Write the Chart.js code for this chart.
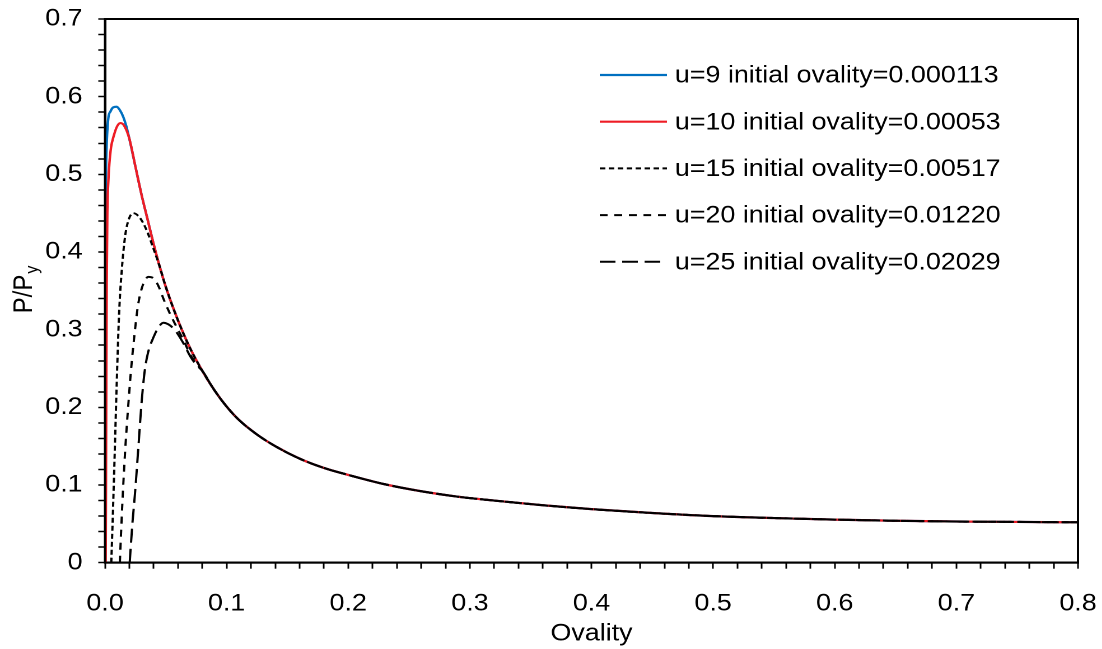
<!DOCTYPE html>
<html>
<head>
<meta charset="utf-8">
<script src="https://cdn.jsdelivr.net/npm/chart.js@4.4.0/dist/chart.umd.min.js"></script>
<style>
  html, body { margin: 0; padding: 0; background: #fff; overflow: hidden; }
  /* the figure is drawn a bit narrower and widened to full width */
  #wrap { width: 984px; height: 649px; transform: scaleX(1.12); transform-origin: 0 0; }
</style>
</head>
<body>
<div id="wrap"><canvas id="myChart"></canvas></div>
<script>
// common post-buckling branch, shared by every case once the curves merge
const tailX = [0.02, 0.025, 0.03, 0.035, 0.04, 0.045, 0.05, 0.06, 0.07, 0.08, 0.09, 0.10, 0.11, 0.125, 0.14, 0.16, 0.18, 0.20, 0.23, 0.26, 0.29, 0.32, 0.36, 0.40, 0.45, 0.50, 0.55, 0.60, 0.65, 0.70, 0.75, 0.80];
const tailY = [0.546, 0.510, 0.474, 0.442, 0.410, 0.381, 0.355, 0.312, 0.276, 0.247, 0.222, 0.201, 0.184, 0.165, 0.150, 0.134, 0.122, 0.113, 0.101, 0.092, 0.085, 0.080, 0.074, 0.069, 0.064, 0.060, 0.0575, 0.0555, 0.054, 0.053, 0.0525, 0.052];

// rising part of each curve, starting from its initial ovality
const u9X = [0.000113, 0.0002, 0.0004, 0.0008, 0.0013, 0.0027, 0.0045, 0.0065, 0.0095, 0.0125, 0.015, 0.0175];
const u9Y = [0, 0.20, 0.40, 0.50, 0.535, 0.572, 0.581, 0.586, 0.587, 0.582, 0.574, 0.562];

const u10X = [0.00053, 0.0008, 0.0011, 0.0014, 0.0019, 0.0027, 0.0036, 0.0050, 0.0069, 0.0100, 0.0128, 0.0160];
const u10Y = [0, 0.10, 0.25, 0.36, 0.45, 0.49, 0.514, 0.535, 0.548, 0.562, 0.566, 0.562];

const u15X = [0.00517, 0.0062, 0.0072, 0.0085, 0.0100, 0.0117, 0.0137, 0.0165, 0.0195, 0.0233, 0.0270, 0.0315, 0.0355, 0.0397];
const u15Y = [0, 0.05, 0.10, 0.17, 0.25, 0.325, 0.375, 0.420, 0.442, 0.450, 0.447, 0.437, 0.423, 0.405];

const u20X = [0.0122, 0.0135, 0.0150, 0.0168, 0.0190, 0.0215, 0.0240, 0.0270, 0.0300, 0.0330, 0.0357, 0.0400, 0.0440, 0.0480, 0.0530, 0.0590, 0.0650, 0.0700];
const u20Y = [0, 0.05, 0.10, 0.15, 0.20, 0.25, 0.29, 0.330, 0.352, 0.364, 0.368, 0.366, 0.356, 0.340, 0.322, 0.303, 0.285, 0.268];

const u25X = [0.0203, 0.0225, 0.0247, 0.0275, 0.0300, 0.0325, 0.0350, 0.0398, 0.0440, 0.0480, 0.0520, 0.0560, 0.0600, 0.0650, 0.0700, 0.0750];
const u25Y = [0, 0.05, 0.09, 0.15, 0.205, 0.245, 0.268, 0.290, 0.303, 0.309, 0.307, 0.302, 0.294, 0.281, 0.266, 0.255];

const legendLabels = [
    'u=9 initial ovality=0.000113',
    'u=10 initial ovality=0.00053',
    'u=15 initial ovality=0.00517',
    'u=20 initial ovality=0.01220',
    'u=25 initial ovality=0.02029'
];

const xTitle = 'Ovality';
const yTitleMain = 'P/P';
const yTitleSub = 'y';

const FONT = "'Liberation Sans', Arial, sans-serif";

function buildPoints(xs, ys, joinAt) {
    let pts = xs.map((x, i) => ({ x: x, y: ys[i] }));
    tailX.forEach((x, i) => {
        if (x >= joinAt) pts.push({ x: x, y: tailY[i] });
    });
    return pts;
}

function isMajor(v) {
    return Math.abs(v * 10 - Math.round(v * 10)) < 1e-6;
}

const data = {
    datasets: [
        {
            label: legendLabels[0],
            data: buildPoints(u9X, u9Y, 0.02),
            borderColor: '#0070c0',
            borderWidth: 2.2,
            borderDash: [],
            order: 5
        },
        {
            label: legendLabels[1],
            data: buildPoints(u10X, u10Y, 0.02),
            borderColor: '#ee1c25',
            borderWidth: 2.2,
            borderDash: [],
            order: 4
        },
        {
            label: legendLabels[2],
            data: buildPoints(u15X, u15Y, 0.045),
            borderColor: '#000',
            borderWidth: 2,
            borderDash: [5, 3],
            order: 3
        },
        {
            label: legendLabels[3],
            data: buildPoints(u20X, u20Y, 0.08),
            borderColor: '#000',
            borderWidth: 2,
            borderDash: [7, 6],
            order: 2
        },
        {
            label: legendLabels[4],
            data: buildPoints(u25X, u25Y, 0.08),
            borderColor: '#000',
            borderWidth: 2,
            borderDash: [14, 6],
            order: 1
        }
    ]
};

// box round the plot area
const frame = {
    id: 'frame',
    afterDatasetsDraw(chart) {
        const { ctx, chartArea: a } = chart;
        ctx.save();
        ctx.strokeStyle = '#000';
        ctx.lineWidth = 2;
        ctx.strokeRect(a.left, a.top, a.right - a.left, a.bottom - a.top);
        ctx.restore();
    }
};

// legend inside the plot, top right
const insideLegend = {
    id: 'insideLegend',
    afterDatasetsDraw(chart) {
        const ctx = chart.ctx;
        ctx.save();
        ctx.font = '24px ' + FONT;
        ctx.textBaseline = 'middle';
        ctx.textAlign = 'left';
        chart.data.datasets.forEach((ds, i) => {
            const y = 75 + i * 46.7;
            ctx.beginPath();
            ctx.strokeStyle = ds.borderColor;
            ctx.lineWidth = ds.borderWidth;
            ctx.setLineDash(ds.borderDash);
            ctx.moveTo(535.5, y);
            ctx.lineTo(595.5, y);
            ctx.stroke();
            ctx.setLineDash([]);
            ctx.fillStyle = '#000';
            ctx.fillText(ds.label, 602.5, y + 1);
        });
        ctx.restore();
    }
};

// axis titles (y title has a subscript)
const axisTitles = {
    id: 'axisTitles',
    afterDraw(chart) {
        const { ctx, chartArea: a } = chart;
        ctx.save();
        ctx.fillStyle = '#000';
        ctx.textBaseline = 'middle';
        ctx.textAlign = 'center';
        ctx.font = '24px ' + FONT;
        ctx.fillText(xTitle, (a.left + a.right) / 2, 634);

        ctx.translate(22, 290);
        ctx.rotate(-Math.PI / 2);
        ctx.textAlign = 'left';
        ctx.font = '24px ' + FONT;
        const w1 = ctx.measureText(yTitleMain).width;
        ctx.font = '16px ' + FONT;
        const w2 = ctx.measureText(yTitleSub).width;
        const x0 = -(w1 + w2) / 2;
        ctx.font = '24px ' + FONT;
        ctx.fillText(yTitleMain, x0, 0);
        ctx.font = '16px ' + FONT;
        ctx.fillText(yTitleSub, x0 + w1 + 1, 7);
        ctx.restore();
    }
};

const config = {
    type: 'scatter',
    data: data,
    options: {
        responsive: true,
        maintainAspectRatio: false,
        devicePixelRatio: 2,
        animation: false,
        events: [],
        layout: {
            padding: { top: 19, right: 21.5, left: 0, bottom: 0 }
        },
        elements: {
            point: { radius: 0 },
            line: { cubicInterpolationMode: 'monotone', fill: false }
        },
        datasets: {
            scatter: { showLine: true }
        },
        plugins: {
            legend: { display: false },
            tooltip: { enabled: false }
        },
        scales: {
            x: {
                type: 'linear',
                min: 0,
                max: 0.8,
                afterFit: function (scale) {
                    scale.height = 86.3;
                    scale.paddingLeft = 0;
                    scale.paddingRight = 0;
                },
                ticks: {
                    stepSize: 0.02,
                    maxTicksLimit: 100,
                    autoSkip: false,
                    maxRotation: 0,
                    padding: 21,
                    color: '#000',
                    font: { family: FONT, size: 24 },
                    callback: function (v) { return isMajor(v) ? v.toFixed(1) : ''; }
                },
                grid: {
                    drawOnChartArea: false,
                    drawTicks: true,
                    tickLength: 6,
                    tickColor: '#000',
                    tickWidth: 1.5
                },
                border: { color: '#000', width: 2 }
            },
            y: {
                type: 'linear',
                min: 0,
                max: 0.7,
                afterFit: function (scale) {
                    scale.width = 93.75;
                    scale.paddingTop = 0;
                    scale.paddingBottom = 0;
                },
                ticks: {
                    stepSize: 0.02,
                    maxTicksLimit: 100,
                    autoSkip: false,
                    padding: 14,
                    color: '#000',
                    font: { family: FONT, size: 24 },
                    callback: function (v) {
                        if (!isMajor(v)) return '';
                        return v === 0 ? '0' : v.toFixed(1);
                    }
                },
                grid: {
                    drawOnChartArea: false,
                    drawTicks: true,
                    tickLength: 6,
                    tickColor: '#000',
                    tickWidth: 1.5
                },
                border: { color: '#000', width: 2 }
            }
        }
    },
    plugins: [frame, insideLegend, axisTitles]
};

var myChart = new Chart(document.getElementById('myChart'), config);
</script>
</body>
</html>
